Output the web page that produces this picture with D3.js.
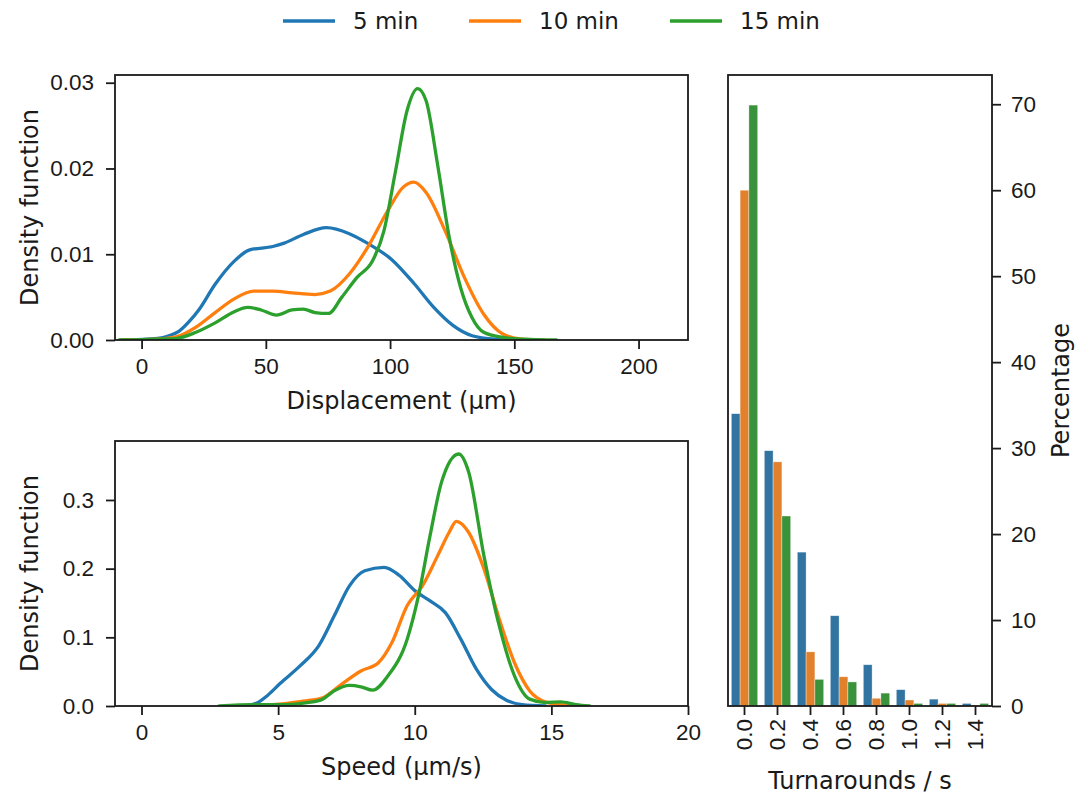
<!DOCTYPE html>
<html>
<head>
<meta charset="utf-8">
<script src="https://cdn.jsdelivr.net/npm/d3@7"></script>
<style>
  html, body { margin: 0; padding: 0; background: #fff; }
  svg { display: block; font-family: "DejaVu Sans", sans-serif; }
  .tick text { fill: #1a1a1a; }
</style>
</head>
<body>
<svg id="chart" width="1076" height="794"></svg>
<script>
// ---- Series names and colours ----
const seriesNames = ["5 min", "10 min", "15 min"];
const lineColors = ["#1f77b4", "#ff7f0e", "#2ca02c"];
const barColors = ["#3274a1", "#e1812c", "#3a923a"];

// ---- Displacement density curves: [displacement µm, density] ----
const disp5 = [[-8,0],[6.5,0.0002],[11,0.0005],[15,0.001],[19,0.0021],[23,0.0035],[29.6,0.0065],[37.3,0.0092],[43.5,0.0105],[52.8,0.0109],[57.4,0.0113],[65.1,0.0123],[74.4,0.0131],[83.6,0.0124],[91.4,0.0112],[100.6,0.0094],[109.9,0.0065],[117.6,0.0038],[125.3,0.0017],[133,0.0005],[142.3,0.0001],[152,0]];
const disp10 = [[-8,0],[6.5,0.0001],[14.2,0.0004],[21.9,0.0015],[29.6,0.0032],[37.3,0.0048],[45.1,0.0057],[52.8,0.0057],[60.5,0.0055],[69.8,0.0053],[75.9,0.0057],[83.6,0.0077],[91.4,0.011],[99.1,0.0151],[105.2,0.0178],[109.6,0.0184],[114.5,0.0172],[122.2,0.0127],[129.9,0.0073],[137.7,0.003],[145.4,0.0007],[153.1,0.0001],[162,0]];
const disp15 = [[-9,0],[6.5,0.0001],[14.2,0.0002],[21.9,0.0009],[29.6,0.002],[37.3,0.0033],[42.7,0.0038],[48.1,0.0035],[54.3,0.0029],[60.5,0.0035],[65.1,0.0036],[69.8,0.0032],[75.2,0.0031],[80.6,0.005],[86.7,0.0073],[92.9,0.0092],[97.5,0.0127],[102.2,0.0197],[106.8,0.0267],[111.1,0.0293],[114.5,0.0279],[119.1,0.0205],[123.8,0.012],[128.4,0.0061],[133,0.0026],[137.7,0.0009],[145.4,0.0003],[153.1,0.0001],[167,0]];

// ---- Speed density curves: [speed µm/s, density] ----
const speed5 = [[3.1,0],[3.8,0.0005],[4.2,0.004],[4.6,0.015],[5.08,0.033],[5.79,0.058],[6.49,0.088],[7.05,0.131],[7.61,0.175],[8.17,0.197],[8.88,0.202],[9.44,0.19],[10.0,0.168],[10.56,0.153],[11.12,0.136],[11.69,0.097],[12.25,0.054],[12.81,0.024],[13.37,0.008],[13.93,0.002],[14.78,0]];
const speed10 = [[3.2,0],[4.8,0.002],[5.93,0.007],[6.63,0.012],[7.33,0.032],[8.03,0.051],[8.67,0.063],[9.16,0.092],[9.72,0.146],[10.28,0.175],[10.84,0.219],[11.26,0.253],[11.52,0.269],[11.97,0.253],[12.53,0.2],[13.09,0.127],[13.65,0.063],[14.21,0.022],[14.78,0.006],[15.34,0.002],[15.76,0]];
const speed15 = [[2.84,0],[4.1,0.002],[5.22,0.002],[6.07,0.005],[6.63,0.01],[7.05,0.022],[7.61,0.03],[8.03,0.028],[8.46,0.023],[9.02,0.044],[9.72,0.097],[10.14,0.161],[10.56,0.248],[10.98,0.326],[11.61,0.367],[11.97,0.341],[12.53,0.219],[13.09,0.117],[13.65,0.044],[14.21,0.01],[14.78,0.005],[15.34,0.006],[15.9,0.002],[16.4,0]];

// ---- Turnaround histogram (percentage per bin) ----
const turnCategories = ["0.0","0.2","0.4","0.6","0.8","1.0","1.2","1.4"];
const turn5 = [34.0, 29.7, 17.9, 10.5, 4.8, 1.9, 0.8, 0.3];
const turn10 = [60.0, 28.4, 6.3, 3.4, 0.9, 0.7, 0.3, 0.1];
const turn15 = [69.9, 22.1, 3.1, 2.8, 1.5, 0.3, 0.3, 0.3];

// ---- Tick values ----
const dispTicks = [0, 50, 100, 150, 200];
const dispDensityTicks = [0, 0.01, 0.02, 0.03];
const speedTicks = [0, 5, 10, 15, 20];
const speedDensityTicks = [0, 0.1, 0.2, 0.3];
const percentTicks = [0, 10, 20, 30, 40, 50, 60, 70];

const svg = d3.select("#chart");
const ink = "#1a1a1a";
const tickFont = 22.5;
const labelFont = 24;

function styleAxis(g) {
  g.selectAll(".domain").remove();
  g.selectAll(".tick line").attr("stroke", ink).attr("stroke-width", 1.8);
  g.selectAll(".tick text").attr("font-size", tickFont).attr("fill", ink);
}

function frame(x0, y0, x1, y1) {
  svg.append("rect")
    .attr("x", x0).attr("y", y0)
    .attr("width", x1 - x0).attr("height", y1 - y0)
    .attr("fill", "none").attr("stroke", ink).attr("stroke-width", 1.8);
}

// ---- Density panel ----
function densityPanel(opts) {
  const { x0, x1, y0, y1, xDomain, yDomain, xTicks, yTicks, yFmt, curves, xLabel } = opts;
  const x = d3.scaleLinear().domain(xDomain).range([x0, x1]);
  const y = d3.scaleLinear().domain(yDomain).range([y1, y0]);

  const clipId = "clip" + Math.round(y0);
  svg.append("clipPath").attr("id", clipId)
    .append("rect").attr("x", x0).attr("y", y0 - 2).attr("width", x1 - x0).attr("height", y1 - y0 + 2);

  const line = d3.line().x(d => x(d[0])).y(d => y(d[1])).curve(d3.curveMonotoneX);
  const g = svg.append("g").attr("clip-path", `url(#${clipId})`);
  curves.forEach((c, i) => {
    g.append("path").datum(c)
      .attr("d", line)
      .attr("fill", "none")
      .attr("stroke", lineColors[i])
      .attr("stroke-width", 3.3)
      .attr("stroke-linejoin", "round")
      .attr("stroke-linecap", "round");
  });

  const xAxis = svg.append("g").attr("transform", `translate(0,${y1})`)
    .call(d3.axisBottom(x).tickValues(xTicks).tickSize(9).tickPadding(7).tickFormat(d3.format("d")));
  styleAxis(xAxis);
  xAxis.selectAll(".tick text").attr("dy", "0.8em");

  const yAxis = svg.append("g").attr("transform", `translate(${x0},0)`)
    .call(d3.axisLeft(y).tickValues(yTicks).tickSize(9).tickPadding(12).tickFormat(d3.format(yFmt)));
  styleAxis(yAxis);

  frame(x0, y0, x1, y1);

  svg.append("text")
    .attr("x", (x0 + x1) / 2).attr("y", y1 + 61)
    .attr("text-anchor", "middle").attr("dominant-baseline", "central")
    .attr("font-size", labelFont).attr("fill", ink)
    .text(xLabel);

  svg.append("text")
    .attr("transform", `translate(30,${(y0 + y1) / 2}) rotate(-90)`)
    .attr("text-anchor", "middle").attr("dominant-baseline", "central")
    .attr("font-size", labelFont).attr("fill", ink)
    .text("Density function");
}

densityPanel({
  x0: 115, x1: 688, y0: 75, y1: 340,
  xDomain: [-10.7, 219.9], yDomain: [0, 0.0309],
  xTicks: dispTicks, yTicks: dispDensityTicks, yFmt: ".2f",
  curves: [disp5, disp10, disp15],
  xLabel: "Displacement (µm)"
});

densityPanel({
  x0: 115, x1: 688, y0: 441, y1: 706,
  xDomain: [-0.97, 20], yDomain: [0, 0.3859],
  xTicks: speedTicks, yTicks: speedDensityTicks, yFmt: ".1f",
  curves: [speed5, speed10, speed15],
  xLabel: "Speed (µm/s)"
});

// ---- Turnaround bar panel ----
(function () {
  const x0 = 728, x1 = 992, y0 = 75, y1 = 706;
  const x = d3.scaleBand().domain(turnCategories).range([x0, x1]).padding(0);
  const groupW = x.bandwidth() * 0.8;
  const xHue = d3.scaleBand().domain(seriesNames).range([-groupW / 2, groupW / 2]).padding(0);
  const y = d3.scaleLinear().domain([0, 73.4]).range([y1, y0]);

  const allSeries = [turn5, turn10, turn15];
  const rows = [];
  allSeries.forEach((vals, si) => {
    vals.forEach((v, ci) => rows.push({ cat: turnCategories[ci], s: si, v }));
  });

  svg.append("g").selectAll("rect").data(rows).join("rect")
    .attr("x", d => x(d.cat) + x.bandwidth() / 2 + xHue(seriesNames[d.s]))
    .attr("width", xHue.bandwidth())
    .attr("y", d => y(d.v))
    .attr("height", d => y(0) - y(d.v))
    .attr("fill", d => barColors[d.s])
    .attr("stroke", "#ffffff")
    .attr("stroke-opacity", 0.6)
    .attr("stroke-width", 0.6);

  const xAxis = svg.append("g").attr("transform", `translate(0,${y1})`)
    .call(d3.axisBottom(x).tickSize(9).tickPadding(7));
  styleAxis(xAxis);
  xAxis.selectAll(".tick text")
    .attr("transform", "translate(0,13) rotate(-90)")
    .attr("text-anchor", "end")
    .attr("dy", "0.35em")
    .attr("y", 0).attr("x", 0);

  const yAxis = svg.append("g").attr("transform", `translate(${x1},0)`)
    .call(d3.axisRight(y).tickValues(percentTicks).tickSize(9).tickPadding(10).tickFormat(d3.format("d")));
  styleAxis(yAxis);

  frame(x0, y0, x1, y1);

  svg.append("text")
    .attr("x", (x0 + x1) / 2).attr("y", 781)
    .attr("text-anchor", "middle").attr("dominant-baseline", "central")
    .attr("font-size", labelFont).attr("fill", ink)
    .text("Turnarounds / s");

  svg.append("text")
    .attr("transform", `translate(1061,${(y0 + y1) / 2}) rotate(-90)`)
    .attr("text-anchor", "middle").attr("dominant-baseline", "central")
    .attr("font-size", labelFont).attr("fill", ink)
    .text("Percentage");
})();

// ---- Legend ----
(function () {
  const lineX = [283, 469, 670];
  const lg = svg.append("g");
  seriesNames.forEach((name, i) => {
    lg.append("line")
      .attr("x1", lineX[i]).attr("x2", lineX[i] + 52)
      .attr("y1", 21).attr("y2", 21)
      .attr("stroke", lineColors[i]).attr("stroke-width", 3.3);
    lg.append("text")
      .attr("x", lineX[i] + 70).attr("y", 21)
      .attr("dominant-baseline", "central")
      .attr("font-size", 23).attr("fill", ink)
      .text(name);
  });
})();
</script>
</body>
</html>
